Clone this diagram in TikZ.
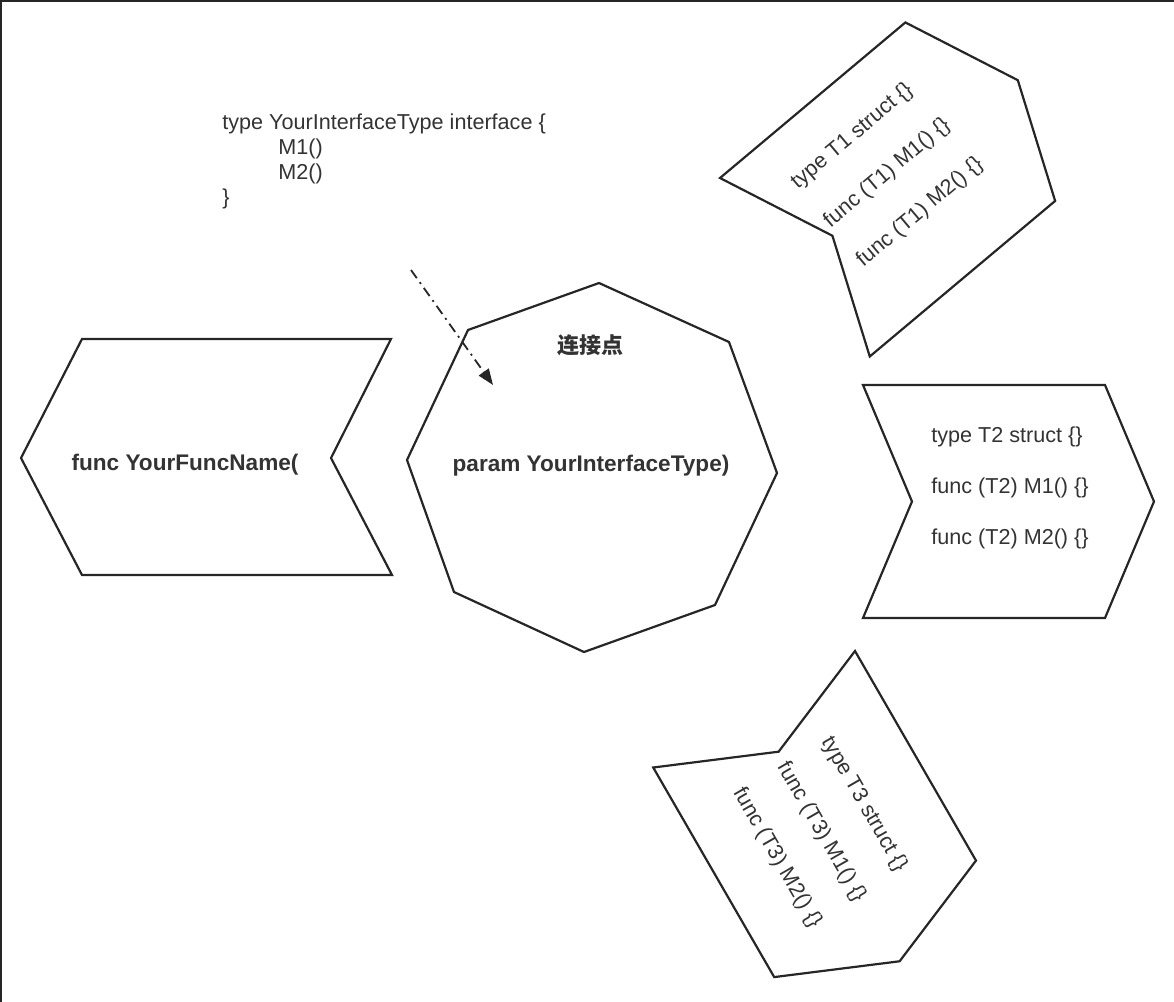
\documentclass[tikz,border=0pt]{standalone}
\usepackage{fontspec}
\setmainfont{Liberation Sans}
\newfontfamily\cjkfont{Noto Sans CJK SC}
\usetikzlibrary{arrows.meta}
\colorlet{ink}{black!85}
\colorlet{txt}{black!80}
\tikzset{outline/.style={
  draw=ink,
  line width=1.1pt,
  line join=miter
}}
\tikzset{code/.style={
  text=txt,
  inner sep=0pt,
  font=\fontsize{10.8}{12.5}\selectfont
}}
\tikzset{codeb/.style={code,font=\fontsize{11.3}{13}\selectfont\bfseries}}
\tikzset{methods/.style={code,align=left,font=\fontsize{10.8}{25.5}\selectfont}}
\begin{document}
\begin{tikzpicture}[x=0.5pt,y=-0.5pt]
    \useasboundingbox (0,0) rectangle (1174,1002);
    % Frame edges
    \draw[ink,line width=1pt] (1,1002) -- (1,1) -- (1174,1);

    % Interface declaration
    \node[code,align=left,anchor=west] (iface) at (222,161)
      {type YourInterfaceType interface \{\\
       \hspace*{28pt}M1()\\
       \hspace*{28pt}M2()\\
       \}};

    % Function shape
    \draw[outline] (82,339) -- (391,339) -- (331,458) -- (392,575)
      -- (82,575) -- (21,458) -- cycle;
    \node[codeb] (fname) at (185,465) {func YourFuncName(};

    % Parameter octagon
    \draw[outline] (599,283) -- (729,342) -- (777,473) -- (715,605)
      -- (584,652) -- (454,592) -- (407,460) -- (468,330) -- cycle;
    \node[codeb] (param) at (591,466) {param YourInterfaceType)};
    \node[code,font=\cjkfont\fontsize{11}{13}\selectfont\bfseries]
      (joint) at (590,345) {连接点};

    % Plug-in arrow
    \coordinate (plugfrom) at (411,270);
    \coordinate (plugto) at (493,385);
    \draw[ink,line width=0.9pt,dash pattern=on 5pt off 2.5pt on 1pt off 2.5pt,
      -{Triangle[length=8pt,width=6pt]}] (plugfrom) -- (plugto);

    % Type T1
    \begin{scope}[shift={(720,178)},rotate=40]
      \draw[outline] (0,0) -- (242,0) -- (291,116.5) -- (242,233)
        -- (0,233) -- (49,116.5) -- cycle;
      \node[methods,rotate=40] (tone) at (131,104)
        {type T1 struct \{\}\\ func (T1) M1() \{\}\\ func (T1) M2() \{\}};
    \end{scope}

    % Type T2
    \begin{scope}[shift={(863,385)}]
      \draw[outline] (0,0) -- (242,0) -- (291,116.5) -- (242,233)
        -- (0,233) -- (49,116.5) -- cycle;
      \node[methods] (ttwo) at (147,103)
        {type T2 struct \{\}\\ func (T2) M1() \{\}\\ func (T2) M2() \{\}};
    \end{scope}

    % Type T3
    \begin{scope}[shift={(855,651)},rotate=-60]
      \draw[outline] (0,0) -- (242,0) -- (291,116.5) -- (242,233)
        -- (0,233) -- (49,116.5) -- cycle;
      \node[methods,rotate=-60] (tthree) at (140,120)
        {type T3 struct \{\}\\ func (T3) M1() \{\}\\ func (T3) M2() \{\}};
    \end{scope}
\end{tikzpicture}
\end{document}
